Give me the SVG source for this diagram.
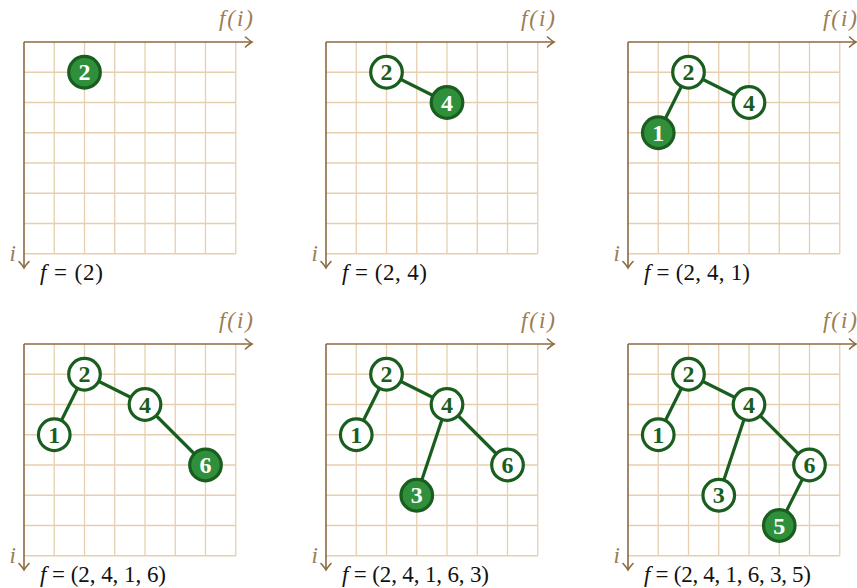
<svg xmlns="http://www.w3.org/2000/svg" width="857" height="588" viewBox="0 0 857 588">
<style>
.bg{fill:#ffffff}
.grid line{stroke:#e6cfae;stroke-width:1.3}
.axis{stroke:#8b6a3f;stroke-width:1.6;fill:none}
.axlab{font-family:"Liberation Serif",serif;font-style:italic;font-size:23px;fill:#9c7c52}
.cap{font-family:"Liberation Serif",serif;font-size:23px;fill:#111}
.cap .v{font-style:italic}
.edge{stroke:#195e1f;stroke-width:3.2;fill:none}
.node circle{fill:#ffffff;stroke:#195e1f;stroke-width:3.2}
.node text{font-family:"Liberation Serif",serif;font-weight:bold;font-size:24px;fill:#195e1f;text-anchor:middle}
.node.hl circle{fill:#2f8f3b}
.node.hl text{fill:#ffffff}
</style>
<defs>
<marker id="ah" viewBox="-8 -6 10 12" refX="0" refY="0" markerWidth="10" markerHeight="12" markerUnits="userSpaceOnUse" orient="auto">
<path d="M-6.5,-5 Q-2,-1 0,0 Q-2,1 -6.5,5" fill="none" stroke="#8b6a3f" stroke-width="1.6" stroke-linecap="round"/>
</marker>
<g id="frame">
<g class="grid">
<line x1="30.25" y1="0" x2="30.25" y2="211.75"/>
<line x1="60.5" y1="0" x2="60.5" y2="211.75"/>
<line x1="90.75" y1="0" x2="90.75" y2="211.75"/>
<line x1="121" y1="0" x2="121" y2="211.75"/>
<line x1="151.25" y1="0" x2="151.25" y2="211.75"/>
<line x1="181.5" y1="0" x2="181.5" y2="211.75"/>
<line x1="211.75" y1="0" x2="211.75" y2="211.75"/>
<line x1="0" y1="30.25" x2="211.75" y2="30.25"/>
<line x1="0" y1="60.5" x2="211.75" y2="60.5"/>
<line x1="0" y1="90.75" x2="211.75" y2="90.75"/>
<line x1="0" y1="121" x2="211.75" y2="121"/>
<line x1="0" y1="151.25" x2="211.75" y2="151.25"/>
<line x1="0" y1="181.5" x2="211.75" y2="181.5"/>
<line x1="0" y1="211.75" x2="211.75" y2="211.75"/>
</g>
<path class="axis" d="M0,0 H228" marker-end="url(#ah)"/>
<path class="axis" d="M0,0 V226" marker-end="url(#ah)"/>
<text class="axlab" x="229" y="-16" text-anchor="end" textLength="34" lengthAdjust="spacing">f(i)</text>
<text class="axlab" x="-8" y="219" text-anchor="end">i</text>
</g>
</defs>
<rect class="bg" width="857" height="588"/>

<g id="panel1" transform="translate(24,42)">
<use href="#frame"/>
<text class="cap" x="16" y="238" textLength="63" lengthAdjust="spacing"><tspan class="v">f</tspan> = (2)</text>
<g class="connectors"></g>
<g id="p1-n2" class="node hl"><circle cx="60.5" cy="30.25" r="15.8"/><text x="60.5" y="38.25">2</text></g>
</g>

<g id="panel2" transform="translate(326,42)">
<use href="#frame"/>
<text class="cap" x="16" y="238" textLength="85" lengthAdjust="spacing"><tspan class="v">f</tspan> = (2, 4)</text>
<g class="connectors">
<line class="edge" x1="60.5" y1="30.25" x2="121" y2="60.5"/>
</g>
<g id="p2-n2" class="node"><circle cx="60.5" cy="30.25" r="15.8"/><text x="60.5" y="38.25">2</text></g>
<g id="p2-n4" class="node hl"><circle cx="121" cy="60.5" r="15.8"/><text x="121" y="68.5">4</text></g>
</g>

<g id="panel3" transform="translate(628,42)">
<use href="#frame"/>
<text class="cap" x="16" y="238" textLength="106" lengthAdjust="spacing"><tspan class="v">f</tspan> = (2, 4, 1)</text>
<g class="connectors">
<line class="edge" x1="60.5" y1="30.25" x2="121" y2="60.5"/>
<line class="edge" x1="60.5" y1="30.25" x2="30.25" y2="90.75"/>
</g>
<g id="p3-n2" class="node"><circle cx="60.5" cy="30.25" r="15.8"/><text x="60.5" y="38.25">2</text></g>
<g id="p3-n4" class="node"><circle cx="121" cy="60.5" r="15.8"/><text x="121" y="68.5">4</text></g>
<g id="p3-n1" class="node hl"><circle cx="30.25" cy="90.75" r="15.8"/><text x="30.25" y="98.75">1</text></g>
</g>

<g id="panel4" transform="translate(24,344)">
<use href="#frame"/>
<text class="cap" x="16" y="238" textLength="126" lengthAdjust="spacing"><tspan class="v">f</tspan> = (2, 4, 1, 6)</text>
<g class="connectors">
<line class="edge" x1="60.5" y1="30.25" x2="121" y2="60.5"/>
<line class="edge" x1="60.5" y1="30.25" x2="30.25" y2="90.75"/>
<line class="edge" x1="121" y1="60.5" x2="181.5" y2="121"/>
</g>
<g id="p4-n2" class="node"><circle cx="60.5" cy="30.25" r="15.8"/><text x="60.5" y="38.25">2</text></g>
<g id="p4-n4" class="node"><circle cx="121" cy="60.5" r="15.8"/><text x="121" y="68.5">4</text></g>
<g id="p4-n1" class="node"><circle cx="30.25" cy="90.75" r="15.8"/><text x="30.25" y="98.75">1</text></g>
<g id="p4-n6" class="node hl"><circle cx="181.5" cy="121" r="15.8"/><text x="181.5" y="129">6</text></g>
</g>

<g id="panel5" transform="translate(326,344)">
<use href="#frame"/>
<text class="cap" x="16" y="238" textLength="147" lengthAdjust="spacing"><tspan class="v">f</tspan> = (2, 4, 1, 6, 3)</text>
<g class="connectors">
<line class="edge" x1="60.5" y1="30.25" x2="121" y2="60.5"/>
<line class="edge" x1="60.5" y1="30.25" x2="30.25" y2="90.75"/>
<line class="edge" x1="121" y1="60.5" x2="181.5" y2="121"/>
<line class="edge" x1="121" y1="60.5" x2="90.75" y2="151.25"/>
</g>
<g id="p5-n2" class="node"><circle cx="60.5" cy="30.25" r="15.8"/><text x="60.5" y="38.25">2</text></g>
<g id="p5-n4" class="node"><circle cx="121" cy="60.5" r="15.8"/><text x="121" y="68.5">4</text></g>
<g id="p5-n1" class="node"><circle cx="30.25" cy="90.75" r="15.8"/><text x="30.25" y="98.75">1</text></g>
<g id="p5-n6" class="node"><circle cx="181.5" cy="121" r="15.8"/><text x="181.5" y="129">6</text></g>
<g id="p5-n3" class="node hl"><circle cx="90.75" cy="151.25" r="15.8"/><text x="90.75" y="159.25">3</text></g>
</g>

<g id="panel6" transform="translate(628,344)">
<use href="#frame"/>
<text class="cap" x="16" y="238" textLength="167" lengthAdjust="spacing"><tspan class="v">f</tspan> = (2, 4, 1, 6, 3, 5)</text>
<g class="connectors">
<line class="edge" x1="60.5" y1="30.25" x2="121" y2="60.5"/>
<line class="edge" x1="60.5" y1="30.25" x2="30.25" y2="90.75"/>
<line class="edge" x1="121" y1="60.5" x2="181.5" y2="121"/>
<line class="edge" x1="121" y1="60.5" x2="90.75" y2="151.25"/>
<line class="edge" x1="181.5" y1="121" x2="151.25" y2="181.5"/>
</g>
<g id="p6-n2" class="node"><circle cx="60.5" cy="30.25" r="15.8"/><text x="60.5" y="38.25">2</text></g>
<g id="p6-n4" class="node"><circle cx="121" cy="60.5" r="15.8"/><text x="121" y="68.5">4</text></g>
<g id="p6-n1" class="node"><circle cx="30.25" cy="90.75" r="15.8"/><text x="30.25" y="98.75">1</text></g>
<g id="p6-n6" class="node"><circle cx="181.5" cy="121" r="15.8"/><text x="181.5" y="129">6</text></g>
<g id="p6-n3" class="node"><circle cx="90.75" cy="151.25" r="15.8"/><text x="90.75" y="159.25">3</text></g>
<g id="p6-n5" class="node hl"><circle cx="151.25" cy="181.5" r="15.8"/><text x="151.25" y="189.5">5</text></g>
</g>
</svg>
